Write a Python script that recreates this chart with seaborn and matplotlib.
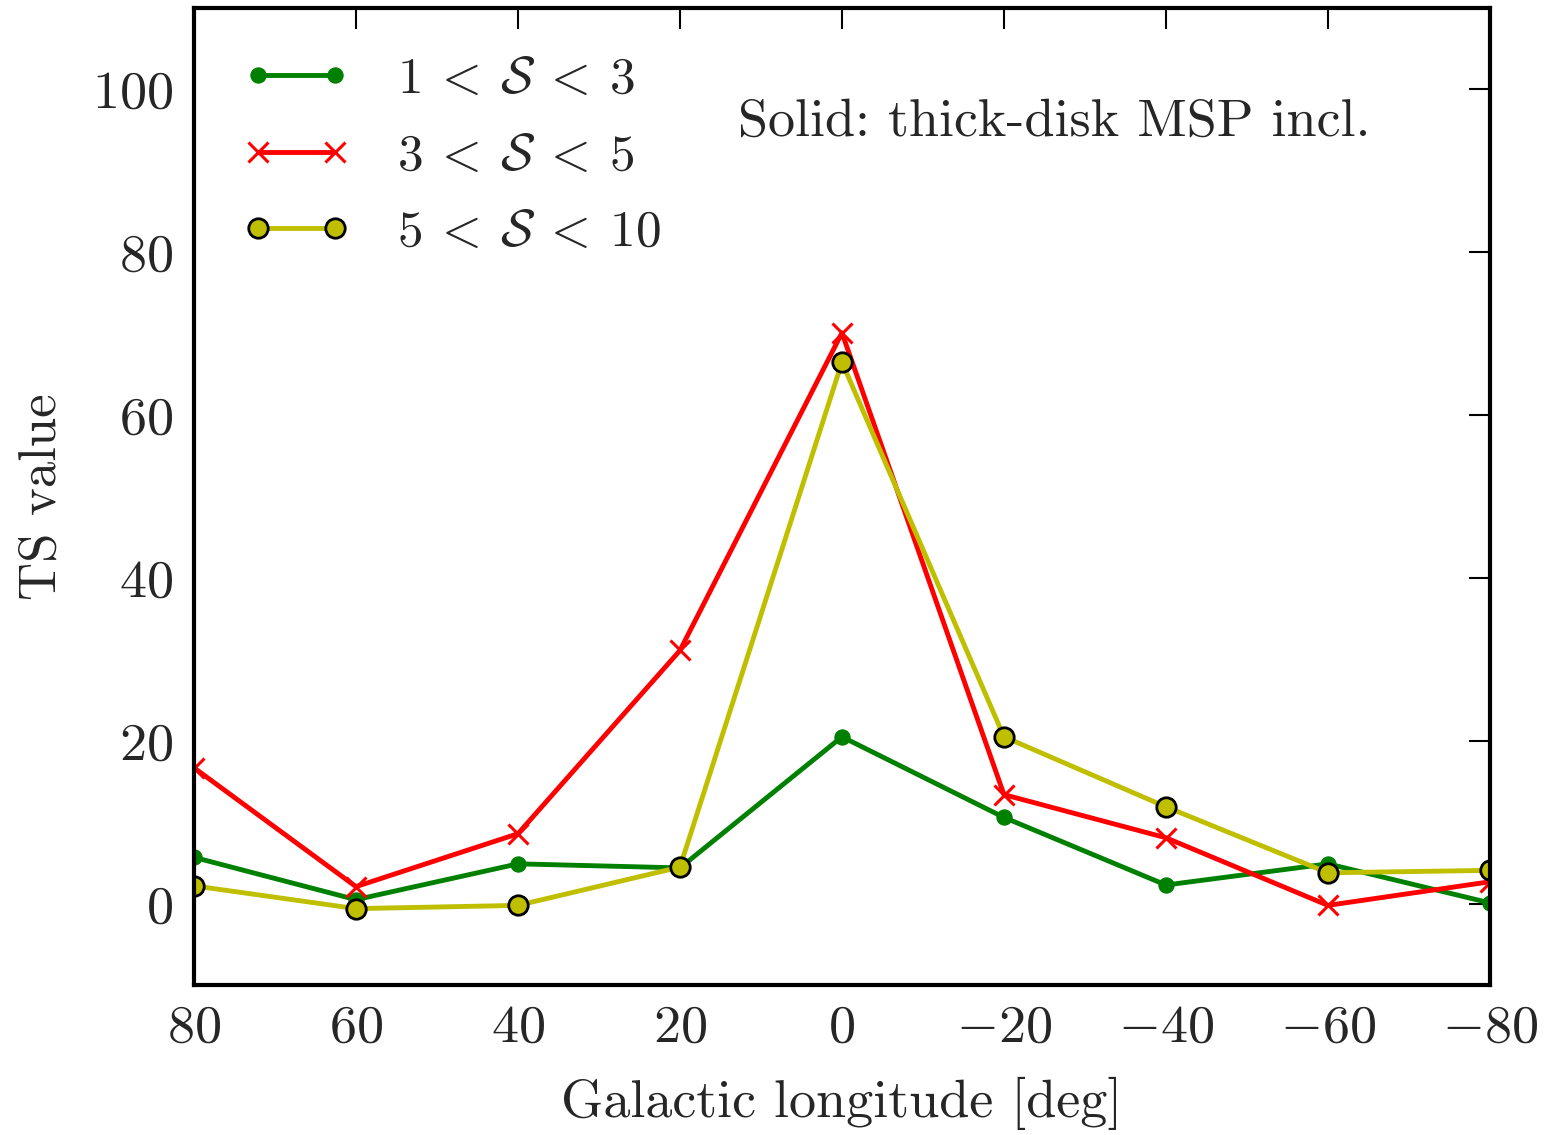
import matplotlib
matplotlib.use("Agg")
import matplotlib.pyplot as plt
import seaborn as sns
import pandas as pd

longitude = [80, 60, 40, 20, 0, -20, -40, -60, -80]
ts_1_3 = [5.7, 0.5, 4.9, 4.4, 20.5, 10.6, 2.3, 4.9, 0.1]
ts_3_5 = [16.7, 2.1, 8.6, 31.1, 70.1, 13.4, 8.1, -0.2, 2.7]
ts_5_10 = [2.2, -0.6, -0.2, 4.5, 66.5, 20.5, 11.9, 3.8, 4.1]
labels = [r'$1\:<\:\mathcal{S}\:<\:3$', r'$3\:<\:\mathcal{S}\:<\:5$', r'$5\:<\:\mathcal{S}\:<\:10$']
xticks = [80, 60, 40, 20, 0, -20, -40, -60, -80]
yticks = [0, 20, 40, 60, 80, 100]

sns.set_style("white")
plt.rcParams['font.family'] = 'serif'
plt.rcParams['font.serif'] = ['cmr10', 'DejaVu Serif']
plt.rcParams['mathtext.fontset'] = 'cm'
plt.rcParams['axes.formatter.use_mathtext'] = True
plt.rcParams['axes.unicode_minus'] = True

fig = plt.figure(figsize=(15.48, 11.35), dpi=100)
ax = fig.add_axes([0.1253, 0.132, 0.8372, 0.861])

sns.lineplot(x=longitude, y=ts_1_3, ax=ax, color='green', linewidth=3.5, marker='o',
             markersize=11, markeredgecolor='green', sort=False, label=labels[0])
sns.lineplot(x=longitude, y=ts_3_5, ax=ax, color='red', linewidth=3.5, marker='x',
             markersize=14, markeredgewidth=2.2, markeredgecolor='red', sort=False, label=labels[1])
sns.lineplot(x=longitude, y=ts_5_10, ax=ax, color='#bfbf00', linewidth=3.5, marker='o',
             markersize=14, markeredgewidth=2, markeredgecolor='black', markerfacecolor='#bfbf00',
             sort=False, label=labels[2])

ax.set_xlim(80, -80)
ax.set_ylim(-10, 110)
ax.set_xticks(xticks)
ax.set_yticks(yticks)
ax.set_xticklabels([f'${v}$' if v >= 0 else f'$-{abs(v)}$' for v in xticks])
ax.set_yticklabels([f'${v}$' for v in yticks])
ax.tick_params(axis='both', which='major', direction='in', length=15, width=1.5,
               top=True, right=True, labelsize=39, color='black')
ax.tick_params(axis='x', pad=14)
ax.tick_params(axis='y', pad=15)
for s in ax.spines.values():
    s.set_linewidth(3)
    s.set_color('black')

ax.set_xlabel('Galactic longitude [deg]', fontsize=39, labelpad=18)
ax.set_ylabel('TS value', fontsize=38, labelpad=19)

leg = ax.legend(loc='upper left', frameon=False, fontsize=37, handlelength=2.1,
                numpoints=2, labelspacing=0.6, handletextpad=0.9, borderaxespad=0.55)
ax.text(0.664, 0.883, 'Solid: thick-disk MSP incl.', transform=ax.transAxes,
        ha='center', va='center', fontsize=39)

fig.savefig('out.png', dpi=100)
